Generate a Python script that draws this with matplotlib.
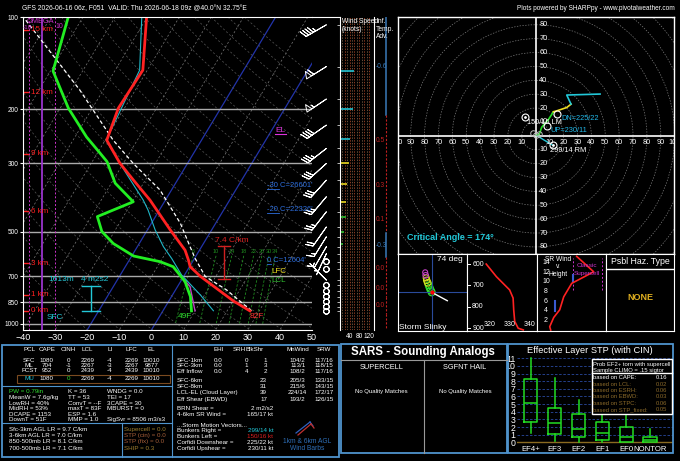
import numpy as np
import matplotlib.pyplot as plt
from matplotlib.patches import Rectangle, Circle
from matplotlib.ticker import NullLocator

plt.rcParams['font.family'] = ['Liberation Sans', 'DejaVu Sans']

W, H = 680, 461

# ---- sounding profiles (mb, deg C) ----
temp_p = [907, 842, 700, 651, 619, 575, 494, 395, 340, 300, 252, 198, 149, 100]
temp_t = [27.1, 20.1, 5.2, 0.2, -1.6, -4.5, -12.9, -24.8, -33.7, -41.0, -49.5, -51.9, -51.4, -60.2]

dwpt_p = [907, 815, 728, 651, 627, 601, 547, 500, 447, 400, 348, 296, 278, 246, 198, 150, 100]
dwpt_t = [8.9, 5.9, 1.4, -5.1, -10.1, -19.4, -28.1, -33.9, -38.1, -29.7, -38.8, -45.4, -49.1, -56.4, -67.5, -79.2, -84.6]

wetb_p = [906, 805, 693, 612, 560, 494, 426, 395, 319, 252, 149, 100]
wetb_t = [15.7, 8.7, -0.9, -7.1, -11.9, -17.6, -23.5, -26.9, -37.9, -49.7, -52.4, -61.7]

parcel_p = [907, 775, 700, 612, 560, 470, 366, 300, 252, 173, 100]
parcel_t = [27.6, 15.9, 6.7, 0.2, -3.6, -11.0, -23.6, -36.9, -47.5, -67.3, -98.6]

dcape_p = [710, 756, 907]
dcape_t = [0.1, 3.9, 10.0]

mixr = [6, 10, 14, 18, 22, 26, 30, 34]

hgt_km = [0, 1, 3, 6, 9, 12, 15]
hgt_p = [906, 804, 634, 429, 279, 176, 110]

# ---- winds ----
barb_p = [106, 145, 185, 225, 268, 300, 340, 385, 431, 483, 520, 560, 590,
          627, 664, 720, 749, 783, 815, 847, 880, 910]
barb_dir = [240, 238, 236, 235, 232, 228, 222, 220, 218, 215, 212, 210, 205,
            0, 0, 315, 0, 0, 0, 0, 0, 0]
barb_spd = [45, 58, 55, 42, 37, 32, 30, 26, 24, 18, 15, 11, 6,
            0, 0, 5, 0, 0, 0, 0, 0, 0]

spd_p = [150, 200, 250, 300, 350, 400, 450, 500, 550]
spd_kt = [58, 55, 42, 37, 30, 25, 24, 17, 11]
spd_col = ['#22c4d4'] * 3 + ['#e8d820'] * 3 + ['#30c030'] * 3

adv_top = [100, 209, 304, 410, 506, 606, 719, 818]
adv_bot = [209, 304, 410, 506, 606, 719, 818, 930]
adv_val = [-0.6, 0.5, 0.3, 0.1, -0.3, 0.0, 0.0, 0.0]

hodo_green_u = [0.2, 2.6, 4.3, 9.1, 12.7]
hodo_green_v = [0.5, 1.2, 6.2, 11.7, 17.3]
hodo_yellow_u = [12.7, 15.1, 22.3, 25.4]
hodo_yellow_v = [17.3, 18.0, 20.4, 22.8]
hodo_cyan_u = [25.4, 22.3, 46.3]
hodo_cyan_v = [22.8, 29.4, 30.1]
rm_dir, rm_spd = 299, 14
lm_dir, lm_spd = 150, 16
dn_dir, dn_spd = 225, 22
up_dir, up_spd = 230, 11

slinky_x = [0, -1, -2, -3, -4, -5, -5.5, -6, -6.5]
slinky_y = [0, 2, 4.5, 7, 9.5, 12, 14.5, 17, 20]
slinky_r = [3.5, 3.5, 3.5, 3.4, 3.3, 3.2, 3.0, 2.8, 2.5]
slinky_c = ['#30e030'] * 4 + ['#d0e020'] * 3 + ['#c040c0'] * 2

thte_p = [600, 659, 721, 759, 814, 868, 900, 908]
thte_k = [318.5, 323.5, 330.0, 331.7, 332.0, 332.5, 334.2, 336.7]

srw_km = [0, 0.7, 2.6, 4.2, 6.9, 9.7, 12.1, 15.3]
srw_kt = [14, 13, 17, 23, 27, 35, 57, 40]

stp_labels = ['EF4+', 'EF3', 'EF2', 'EF1', 'EF0', 'NONTOR']
stp_whislo = [1.2, 0.2, 0.1, 0.1, 0.0, 0.0]
stp_q1 = [2.6, 1.1, 0.7, 0.3, 0.1, 0.0]
stp_med = [5.2, 2.5, 1.7, 1.2, 0.7, 0.3]
stp_q3 = [8.3, 4.5, 3.7, 2.6, 2.0, 0.7]
stp_whishi = [11.0, 8.4, 5.5, 3.8, 3.6, 1.7]

prob_labels = ['based on CAPE:', 'based on LCL:', 'based on ESRH:', 'based on EBWD:',
               'based on STPC:', 'based on STP_fixed:']
prob_vals = ['0.16', '0.02', '0.06', '0.03', '0.06', '0.05']

pcl_head = ['PCL', 'CAPE', 'CINH', 'LCL', 'LI', 'LFC', 'EL']
pcl_rows = [['SFC', '1080', '0', '2269', '-4', '2269', '10010'],
            ['ML', '704', '-1', '2267', '-3', '2267', '9877'],
            ['FCST', '952', '0', '2439', '-4', '2439', '10010'],
            ['MU', '1080', '0', '2269', '-4', '2269', '10010']]
idx_col1 = ['PW = 0.79in', 'MeanW = 7.6g/kg', 'LowRH = 40%', 'MidRH = 53%', 'DCAPE = 1153', 'DownT = 51F']
idx_col2 = ['K = 36', 'TT = 53', 'ConvT = --F', 'maxT = 83F', 'ESP = 1.6', 'MMP = 1.0']
idx_col3 = ['WNDG = 0.0', 'TEI = 17', '3CAPE = 30', 'MBURST = 0', '', 'SigSvr = 8506 m3/s3']
lapse = ['Sfc-3km AGL LR = 9.7 C/km', '3-6km AGL LR = 7.0 C/km',
         '850-500mb LR = 8.1 C/km', '700-500mb LR = 7.1 C/km']
severe = ['Supercell = 0.0', 'STP (cin) = 0.0', 'STP (fix) = 0.0', 'SHIP = 0.3']
severe_col = ['#a08030', '#a8603a', '#a8603a', '#a08030']

kin_rows = [['SFC-1km', '0.0', '0', '1', '104/2', '117/16'],
            ['SFC-3km', '0.0', '1', '3', '113/1', '118/15'],
            ['Eff Inflow', '0.0', '4', '2', '108/2', '117/16'],
            ['SFC-6km', '', '', '23', '205/3', '133/15'],
            ['SFC-8km', '', '', '31', '215/6', '143/15'],
            ['LCL-EL (Cloud Layer)', '', '', '39', '224/14', '172/17'],
            ['Eff Shear (EBWD)', '', '', '17', '193/2', '126/15']]
motion = [('Bunkers Right =', '299/14 kt', '#22c8d8'), ('Bunkers Left =', '150/16 kt', '#e02020'),
          ('Corfidi Downshear =', '225/22 kt', 'white'), ('Corfidi Upshear =', '230/11 kt', 'white')]

BLUE = '#4f94cd'

fig = plt.figure(figsize=(W / 100, H / 100), dpi=100, facecolor='black')


def px_axes(x0, y0, x1, y1, z=1):
    ax = fig.add_axes([x0 / W, 1 - y1 / H, (x1 - x0) / W, (y1 - y0) / H], zorder=z)
    ax.set_facecolor('black')
    return ax


def uv(d, s):
    r = np.radians(np.asarray(d, float))
    s = np.asarray(s, float)
    return -s * np.sin(r), -s * np.cos(r)


SKEW, PBOT = 25.0, 1050.0


def skx(t, p):
    return np.asarray(t, float) + SKEW * np.log(PBOT / np.asarray(p, float))


def logp_axis(ax):
    ax.set_yscale('log')
    ax.set_ylim(PBOT, 100)
    ax.yaxis.set_minor_locator(NullLocator())


# ---------------- skew-T ----------------
sk = px_axes(22.7, 17, 311.7, 330.4)
logp_axis(sk)
sk.set_xlim(-40, 50)
pp = np.geomspace(100, PBOT, 60)
for t0 in range(-160, 60, 10):
    if t0 in (-20, 0):
        sk.plot(skx(t0, pp), pp, color='#2233aa', lw=0.9)
    else:
        sk.plot(skx(t0, pp), pp, color='#7a7a7a', lw=0.5, ls=(0, (3, 3)))
for th in range(250, 480, 10):
    t = th * (pp / 1000.0) ** 0.2857 - 273.15
    sk.plot(skx(t, pp), pp, color='#555555', lw=0.5, ls=(0, (3, 3)))
pm = np.geomspace(600, 1000, 20)
for w in mixr:
    e = w * pm / (622.0 + w)
    a = np.log(e / 6.112)
    t = 243.5 * a / (17.67 - a)
    sk.plot(skx(t, pm), pm, color='#1f8a1f', lw=0.6, ls=(0, (3, 2)))
    sk.text(skx(t[0], 600), 583, str(w), color='#1f8a1f', fontsize=4, ha='center', va='center')
for p in [200, 300, 500, 700, 850, 1000]:
    sk.axhline(p, color='#aaaaaa', lw=1)

# omega column
sk.axvline(-34.1, color='#9933cc', lw=1.3)
for xo in (-38.0, -29.9):
    sk.axvline(xo, color='#cc33cc', lw=0.7, ls=(0, (2, 2)))

sk.plot(skx(parcel_t, parcel_p), parcel_p, color='white', lw=0.9, ls=(0, (3, 2)))
sk.plot(skx(wetb_t, wetb_p), wetb_p, color='#20b8c8', lw=0.8)
sk.plot(skx(dcape_t, dcape_p), dcape_p, color='#c040c0', lw=1)
sk.plot(skx(dwpt_t, dwpt_p), dwpt_p, color='#22ee22', lw=2)
sk.plot(skx(temp_t, temp_p), temp_p, color='#ff2222', lw=2)

for k, p in zip(hgt_km, hgt_p):
    sk.plot([-40, -38.2], [p, p], color='#ff2020', lw=1)
    sk.text(-37.3, p, f'{k} km', color='#ff2020', fontsize=5.8, va='center')

sk.set_yticks([100, 200, 300, 500, 700, 850, 1000],
              labels=['100', '200', '300', '500', '700', '850', '1000'])
sk.yaxis.set_minor_locator(NullLocator())
sk.set_xticks(range(-40, 60, 10))
sk.tick_params(axis='y', colors='white', labelsize=4.7, length=2, pad=1)
sk.tick_params(axis='x', colors='white', labelsize=6.5, length=0, pad=2)
for s in ['top', 'left', 'bottom']:
    sk.spines[s].set_color('white')
    sk.spines[s].set_linewidth(0.8)
sk.spines['right'].set_visible(False)

# wind barbs column
bx = px_axes(311.7, 17, 340, 330.4)
logp_axis(bx)
bx.set_xlim(0, 1)
bu, bv = uv(barb_dir, barb_spd)
bx.barbs(np.full(len(barb_p), 0.52), barb_p, bu, bv, barbcolor='white', flagcolor='none',
         length=5.8, linewidth=0.7, sizes=dict(emptybarb=0.12, spacing=0.12, height=0.3),
         clip_on=False)
bx.axis('off')

# wind speed column
ws = px_axes(340, 17, 374, 330.4)
logp_axis(ws)
ws.set_xlim(0, 141)
for i, xv in enumerate(range(10, 130, 10)):
    ws.axvline(xv, color='#c0502a' if i % 2 else '#907050', lw=0.5, ls=(0, (2, 2)))
ws.hlines(spd_p, 0, spd_kt, colors=spd_col, lw=1.2)
ws.set_yticks(barb_p)
ws.set_yticklabels([])
ws.set_xticks([40, 80, 120], labels=['40', '80', '120'])
ws.tick_params(axis='y', colors='white', length=2, width=0.5)
ws.tick_params(axis='x', colors='white', labelsize=4.8, length=0, pad=2)
for s in ['top', 'bottom']:
    ws.spines[s].set_visible(False)
for s in ['left', 'right']:
    ws.spines[s].set_color('white')
    ws.spines[s].set_linewidth(0.8)

# inferred temperature advection
ta = px_axes(374, 17, 397.7, 330.4)
logp_axis(ta)
ta.set_xlim(0, 1)
for top, bot, val in zip(adv_top, adv_bot, adv_val):
    c = '#3a7ab8' if val < 0 else '#c02020'
    ta.plot([0.5, 0.5], [top, bot], color=c, lw=1.1 if val < 0 else 0.8,
            ls='-' if val < 0 else (0, (2, 1.5)))
    ta.text(0.08, np.sqrt(top * bot), f'{val:.1f}', color=c, fontsize=4.8, va='center')
ta.plot([0.5, 0.5], [930, PBOT], color='#c02020', lw=0.8, ls=(0, (2, 1.5)))
ta.axis('off')

# ---------------- hodograph ----------------
ho = px_axes(397.7, 17, 674.3, 254)
ho.set_xlim(-99.3, 99.7)
ho.set_ylim(-85.1, 85.6)
ho.set_xticks([])
ho.set_yticks([])
for s in ho.spines.values():
    s.set_color('white')
    s.set_linewidth(1)
for r in range(10, 140, 10):
    ho.add_patch(Circle((0, 0), r, fill=False, ec='#7a7a7a', lw=0.5, ls=(0, (2, 2))))
ho.axhline(0, color='white', lw=1.2)
ho.axvline(0, color='white', lw=1.2)
for r in range(10, 110, 10):
    ho.text(-r, -5, str(r), color='white', fontsize=5.3, ha='center', va='center', clip_on=True)
    ho.text(r, -5, str(r), color='white', fontsize=5.3, ha='center', va='center', clip_on=True)
for r in range(10, 90, 10):
    ho.text(5.5, r, str(r), color='white', fontsize=5.3, ha='center', va='center')
    ho.text(5.5, -r, str(r), color='white', fontsize=5.3, ha='center', va='center')
rmu, rmv = uv(rm_dir, rm_spd)
lmu, lmv = uv(lm_dir, lm_spd)
dnu, dnv = uv(dn_dir, dn_spd)
upu, upv = uv(up_dir, up_spd)
ho.plot([hodo_green_u[0], rmu], [hodo_green_v[0], rmv], color='#22c8d8', lw=1)
ho.plot(hodo_green_u, hodo_green_v, color='#22dd22', lw=1.2)
ho.plot(hodo_yellow_u, hodo_yellow_v, color='#eedd22', lw=1.2)
ho.plot(hodo_cyan_u, hodo_cyan_v, color='#22c8d8', lw=1.2)
ho.plot([-1.7, 0.2, 2.6], [1.7, 0.5, 1.2], 'o', mfc='none', mec='#bbbbbb', ms=4, mew=0.7)
ho.plot([rmu, lmu, dnu, upu], [rmv, lmv, dnv, upv], 'o', mfc='none', mec='white', ms=5, mew=0.8)
ho.plot([rmu, lmu], [rmv, lmv], '.', color='white', ms=2)
ho.text(-6.3, 9.9, '150/16 LM', color='white', fontsize=5.3, va='center')
ho.text(18.2, 12.7, 'DN=225/22', color='#22b8e8', fontsize=5.3, va='center')
ho.text(10.3, 4.0, 'UP=230/11', color='#22b8e8', fontsize=5.3, va='center')
ho.text(10.3, -10.3, '299/14 RM', color='white', fontsize=5.3, va='center')
ho.text(-92.8, -73.1, 'Critical Angle = 174\u00b0', color='#22c8d8', fontsize=6.5,
        fontweight='bold', va='center')

# storm slinky
sl = px_axes(397.7, 254, 466.7, 331)
sl.set_xlim(-34, 35)
sl.set_ylim(-38.7, 38.3)
sl.set_xticks([])
sl.set_yticks([])
for s in sl.spines.values():
    s.set_color('white')
sl.axhline(0, color='#2a4a9a', lw=0.8)
sl.axvline(0, color='#2a4a9a', lw=0.8)
for x, y, r, c in zip(slinky_x, slinky_y, slinky_r, slinky_c):
    sl.add_patch(Circle((x, y), r, fill=False, ec=c, lw=0.8))
sl.plot([0, 15.6], [0, -8.4], color='white', lw=1)
sl.plot(0, 0, 'o', color='red', ms=2)
sl.text(0.76, 0.93, '74 deg', transform=sl.transAxes, color='white', fontsize=6, ha='center', va='center')
sl.text(0.37, 0.05, 'Storm Slinky', transform=sl.transAxes, color='white', fontsize=6, ha='center', va='center')

# theta-e vs pressure
te = px_axes(466.7, 254, 536.7, 331)
te.set_xlim(308.9, 343.3)
te.set_ylim(913, 553)
te.set_xticks([])
te.set_yticks([])
for s in te.spines.values():
    s.set_color('white')
te.plot(thte_k, thte_p, color='#ff2222', lw=1.2)
for p in [600, 700, 800, 900]:
    te.plot([308.9, 310.6], [p, p], color='white', lw=0.7)
    te.text(311.6, p, str(p), color='white', fontsize=5, va='center')
for k in [320, 330, 340]:
    te.text(k, 884, str(k), color='white', fontsize=5, ha='center', va='center')

# storm-relative wind vs height
sr = px_axes(536.7, 254, 606, 331)
sr.set_xlim(0, 69.3)
sr.set_ylim(-0.2, 15.8)
sr.set_xticks([])
sr.set_yticks([])
for s in sr.spines.values():
    s.set_color('white')
for k in range(2, 16, 2):
    sr.text(9.3, k, str(k), color='white', fontsize=5, ha='center', va='center')
sr.plot([36.6, 36.6], [8.3, 15], color='#cc33cc', lw=0.7, ls=(0, (2, 2)))
sr.plot([65, 65], [8.3, 15], color='#cc33cc', lw=0.7, ls=(0, (2, 2)))
sr.plot([18.3, 18.3], [4, 6], color='#3a5ad0', lw=1.5)
sr.plot([36, 36], [10, 11.5], color='#3a5ad0', lw=1.5)
sr.plot(srw_kt, srw_km, color='#ff2222', lw=1.2)

# possible hazard type
hz = px_axes(606, 254, 674.3, 331)
hz.set_xticks([])
hz.set_yticks([])
for s in hz.spines.values():
    s.set_color('white')
hz.axhline(0.805, color='white', lw=1)

# ---------------- STP box plots ----------------
st = px_axes(517, 344.3, 673.3, 453.3)
st.set_xlim(-0.579, 5.975)
st.set_ylim(-1.44, 12.83)
for k in range(1, 12):
    st.axhline(k, color='#2a4aa0', lw=0.6, ls=(0, (3, 2)))
st.axhline(0, color='#8b6b20', lw=1)
stats = [dict(med=m, q1=a, q3=b, whislo=lo, whishi=hi, fliers=[])
         for m, a, b, lo, hi in zip(stp_med, stp_q1, stp_q3, stp_whislo, stp_whishi)]
gp = dict(color='#22dd22', lw=1.1)
st.bxp(stats, positions=range(len(stats)), widths=0.55, showfliers=False, boxprops=gp,
       whiskerprops=gp, medianprops=gp, capprops=dict(lw=0), manage_ticks=False)
for i, lab in enumerate(stp_labels):
    st.text(i, -0.95, lab, color='white', fontsize=5.6, ha='center', va='center')
st.set_yticks(range(12), labels=[str(k) for k in range(12)])
st.set_xticks([])
st.tick_params(axis='y', colors='white', labelsize=6.3, length=0, pad=1)
for s in st.spines.values():
    s.set_visible(False)

# ---------------- overlay: text and frames in pixels ----------------
ov = fig.add_axes([0, 0, 1, 1], zorder=20)
ov.set_xlim(0, W)
ov.set_ylim(H, 0)
ov.axis('off')


def T(x, y, s, **kw):
    kw.setdefault('color', 'white')
    kw.setdefault('fontsize', 4.5)
    kw.setdefault('va', 'center')
    return ov.text(x, y, s, **kw)


def L(xs, ys, **kw):
    kw.setdefault('color', BLUE)
    kw.setdefault('lw', 0.8)
    ov.plot(xs, ys, **kw)


T(22, 9, 'GFS 2026-06-16 06z, F051  VALID: Thu 2026-06-18 09z @40.0\u00b0N 32.75\u00b0E', fontsize=4.9)
T(675, 9, 'Plots powered by SHARPpy - www.pivotalweather.com', fontsize=4.7, ha='right')
L([311.7, 340], [17, 17], color='white', lw=0.8)

T(27, 21.5, 'OMEGA', color='#cc33cc', fontsize=5.3)
T(22.5, 27.5, '-10', color='#cc33cc', fontsize=4.6)
T(55, 27, '10', color='#cc33cc', fontsize=5)
T(341.5, 21.7, 'Wind Speed', fontsize=4.8)
T(341.5, 29.5, '(knots)', fontsize=4.8)
T(376, 21.7, 'Inf.', fontsize=4.8)
T(376, 29.5, 'Temp.', fontsize=4.8)
T(376, 37, 'Adv.', fontsize=4.8)

T(275, 130, 'EL', color='#dd33dd', fontsize=6)
L([275, 286], [134, 134], color='#dd33dd')
T(266.7, 185, "-30 C=26601'", color='#2e6fdf', fontsize=5.5)
T(266.7, 209, "-20 C=22326'", color='#2e6fdf', fontsize=5.5)
T(266.7, 260, "0 C=12604'", color='#2e6fdf', fontsize=5.5)
for yy, x1 in [(189, 279), (213, 279), (264, 271)]:
    L([266.7, x1], [yy, yy], color='#2e6fdf', lw=0.6)
T(271.7, 271, 'LFC', color='#f0e020', fontsize=5.8)
T(271.7, 280, 'LCL', color='#30c030', fontsize=5.8)
T(231.7, 240.7, '7.4 C/km', color='#e02020', fontsize=6, ha='center')
L([224.3, 224.3], [246, 279.3], color='#d02020', lw=1)
L([218, 230], [246, 246], color='#d02020', lw=1)
L([218, 230], [279.3, 279.3], color='#d02020', lw=1)
T(61.7, 279.3, '1613m', color='#22c8d8', fontsize=6, ha='center')
T(95, 279.3, '4 m2s2', color='#22c8d8', fontsize=6, ha='center')
L([90.7, 90.7], [286, 310.7], color='#22c8d8', lw=1)
L([81.7, 99.7], [286, 286], color='#22c8d8', lw=1)
L([81.7, 99.7], [310.7, 310.7], color='#22c8d8', lw=1)
T(55, 317.7, 'SFC', color='#22c8d8', fontsize=6, ha='center')
T(185, 316.7, '49F', color='#30e030', fontsize=6, ha='center')
T(256.7, 316.7, '82F', color='#ff3030', fontsize=6, ha='center')

T(558.3, 259.5, 'SR Wind', fontsize=4.8, ha='center')
T(558.3, 266.8, 'v.', fontsize=4.8, ha='center')
T(558.3, 274, 'Height', fontsize=4.8, ha='center')
T(587, 265.5, 'Classic', color='#cc33cc', fontsize=4.6, ha='center')
T(587, 273.3, 'Supercell', color='#cc33cc', fontsize=4.6, ha='center')
T(640, 261.7, 'Psbl Haz. Type', fontsize=6.3, ha='center')
T(640, 297.3, 'NONE', color='#e0b020', fontsize=6.5, ha='center', fontweight='bold')

# bottom-left panel
ov.add_patch(Rectangle((2, 344.5), 337, 112.5, fill=False, ec=BLUE, lw=1.3))
L([172.3, 172.3], [344.5, 457])
L([2, 172.3], [386, 386])
L([2, 172.3], [423.3, 423.3])
L([121.7, 121.7], [423.3, 457])
ov.add_patch(Rectangle((16.7, 374.5), 153.3, 8.3, fill=False, ec='#7a4a20', lw=0.8))
pcl_x = [29.3, 46.7, 68.3, 87.3, 110, 131.7, 151.7]
for x, h in zip(pcl_x, pcl_head):
    T(x, 349.3, h, ha='center')
for row, y in zip(pcl_rows, [360, 365.2, 370.3, 378.7]):
    for j, (x, s) in enumerate(zip(pcl_x, row)):
        c = 'white'
        if row[0] == 'MU' and j == 0:
            c = '#22c8d8'
        if row[0] == 'MU' and j == 2:
            c = '#30e030'
        T(x, y, s, ha='center', color=c)
for i in range(6):
    y = 391.7 + 5.65 * i
    T(9.3, y, idx_col1[i], color='#30e030' if i == 0 else 'white')
    T(68.3, y, idx_col2[i])
    T(106.7, y, idx_col3[i])
for i in range(4):
    y = 429.3 + 6.33 * i
    T(9.3, y, lapse[i])
    T(124, y, severe[i], color=severe_col[i])

for x, h in zip([218.3, 239.3, 255, 297.7, 324], ['EHI', 'SRH', 'BlkShr', 'MnWind', 'SRW']):
    T(x, 349.3, h, ha='center')
for row, y in zip(kin_rows, [360, 365.7, 371.3, 380.7, 386.7, 392.7, 399.3]):
    T(176.7, y, row[0])
    T(218.3, y, row[1], ha='center')
    T(248, y, row[2], ha='right')
    T(267, y, row[3], ha='right')
    T(297.7, y, row[4], ha='center')
    T(324, y, row[5], ha='center')
T(176.7, 408.3, 'BRN Shear =')
T(273.3, 408.3, '2 m2/s2', ha='right')
T(176.7, 414, '4-6km SR Wind =')
T(273.3, 414, '165/17 kt', ha='right')
T(176.7, 425, '...Storm Motion Vectors...')
for (lab, val, c), y in zip(motion, [430.5, 436.3, 442.3, 448.3]):
    T(176.7, y, lab)
    T(273.3, y, val, ha='right', color=c)
L([296, 310], [433, 422], color='#3060c0', lw=0.9)
L([310, 313], [422, 426], color='#3060c0', lw=0.9)
L([298, 311], [435, 424], color='#c03030', lw=0.9)
L([311, 314], [424, 428], color='#c03030', lw=0.9)
T(306.7, 441, '1km & 6km AGL', color='#2e6fb8', fontsize=4.8, ha='center')
T(306.7, 448.3, 'Wind Barbs', color='#2e6fb8', fontsize=4.8, ha='center')

# SARS panel
ov.add_patch(Rectangle((340.5, 344.3), 166.2, 109, fill=False, ec=BLUE, lw=1.3))
T(423.3, 352.3, 'SARS - Sounding Analogs', fontsize=8.3, ha='center', fontweight='bold')
L([340.5, 506.7], [360, 360], color='#999999')
L([424.3, 424.3], [360, 453.3], color='#999999')
T(381.7, 367, 'SUPERCELL', fontsize=5.3, ha='center')
T(465, 367, 'SGFNT HAIL', fontsize=5.3, ha='center')
T(381.7, 391.7, 'No Quality Matches', fontsize=4.3, ha='center')
T(465, 391.7, 'No Quality Matches', fontsize=4.3, ha='center')

# STP panel frame and probability box
ov.add_patch(Rectangle((507.7, 344.3), 165.6, 109, fill=False, ec=BLUE, lw=1.3))
T(590, 350.7, 'Effective Layer STP (with CIN)', fontsize=6.7, ha='center')
box = Rectangle((591.7, 359), 80, 55, fc='black', ec='white', lw=1)
ov.add_patch(box)
L([591.7, 671.7], [373.3, 373.3], color='white', lw=1)
t1 = T(593.3, 364, 'Prob EF2+ torn with supercell', fontsize=4.2)
t2 = T(593.3, 370, 'Sample CLIMO = .15 sigtor', fontsize=4.2)
t1.set_clip_path(box)
t2.set_clip_path(box)
for i, (lab, val) in enumerate(zip(prob_labels, prob_vals)):
    c = 'white' if i == 0 else '#8b6a2a'
    y = 377.7 + 6.4 * i
    T(593.3, y, lab, fontsize=4.2, color=c)
    T(667, y, val, fontsize=4.2, color=c, ha='right')

fig.savefig('out.png', dpi=100, facecolor='black')
